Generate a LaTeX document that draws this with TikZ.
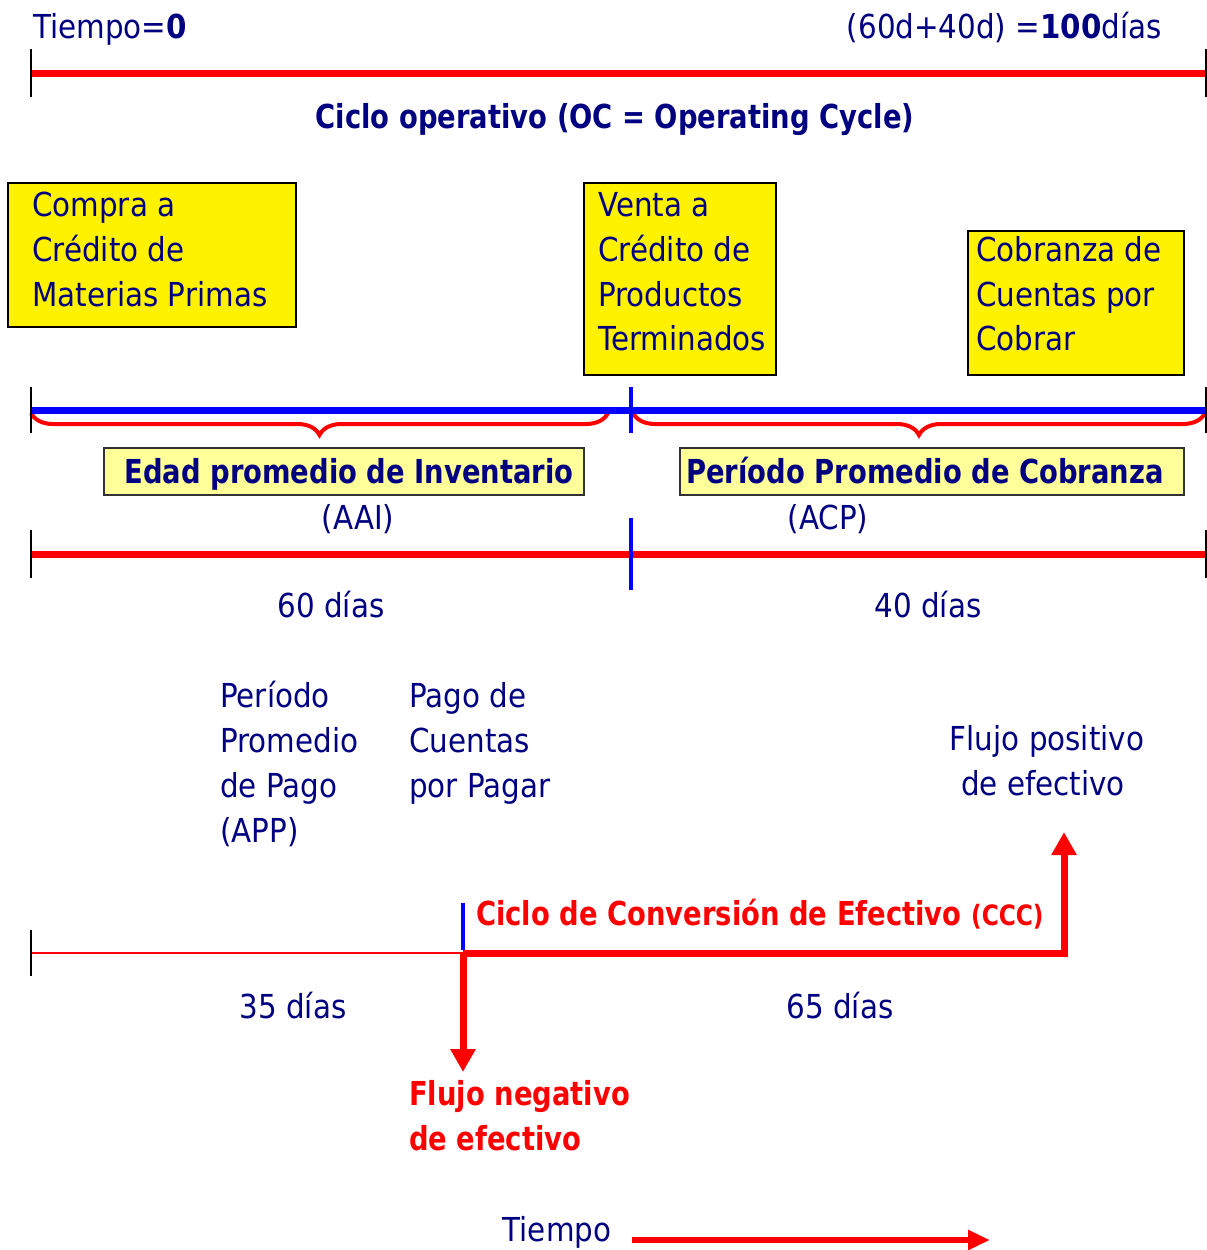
\documentclass[tikz,border=0pt]{standalone}
\usepackage{fontspec}
\setmainfont{DejaVu Sans}[FakeStretch=0.89]
\newfontfamily\bfam{DejaVu Sans}[FakeStretch=0.83]
\usetikzlibrary{decorations.pathreplacing,arrows.meta,calc}
\definecolor{navy}{RGB}{0,0,128}
\definecolor{lyel}{RGB}{255,255,153}
\begin{document}
\begin{tikzpicture}[x=1pt,y=-1pt,
  txt/.style={text=navy,font=\fontsize{33}{45}\selectfont,inner sep=0pt},
  btxt/.style={font=\bfam\bfseries\fontsize{33}{45}\selectfont,inner sep=0pt},
  ybox/.style={draw=black,line width=2pt,fill=yellow,inner sep=0pt,anchor=north west},
  lbox/.style={draw=black!80,line width=2pt,fill=lyel,inner sep=0pt,anchor=north west},
  redline/.style={red,line width=7pt},
  bluline/.style={blue,line width=7pt},
  ktick/.style={black,line width=2pt},
  btick/.style={blue,line width=4.5pt},
  rbrace/.style={red,line width=4pt,decorate,decoration={brace,mirror,amplitude=22pt}},
  rarrow/.style={red,line width=7pt,-{Triangle[length=23pt,width=24pt]}}
]
\useasboundingbox (0,0) rectangle (1207,1250);

% ---------- top line ----------
\coordinate (t0) at (31,73);
\coordinate (t1) at (1207,73);
\draw[redline] (t0) -- (t1);
\draw[ktick] ($(t0)+(0,-24)$) -- ($(t0)+(0,24)$);
\draw[ktick] ($(t1)+(-1,-24)$) -- ($(t1)+(-1,24)$);
\node[txt,anchor=base west] (tcero) at (33,38) {Tiempo=\textbf{0}};
\node[txt,anchor=base east] (tcien) at (1162,38) {(60d+40d) =\textbf{100}días};
\node[btxt,text=navy,anchor=base] (oc) at (615,128) {Ciclo operativo (OC = Operating Cycle)};

% ---------- yellow boxes ----------
\node[ybox,minimum width=288pt,minimum height=144pt] (b1) at (7,182) {};
\node[txt,anchor=base west] (b1a) at (32,216) {Compra a};
\node[txt,anchor=base west] (b1b) at (32,261) {Crédito de};
\node[txt,anchor=base west] (b1c) at (32,306) {Materias Primas};

\node[ybox,minimum width=192pt,minimum height=192pt] (b2) at (583,182) {};
\node[txt,anchor=base west] (b2a) at (598,216) {Venta a};
\node[txt,anchor=base west] (b2b) at (598,261) {Crédito de};
\node[txt,anchor=base west] (b2c) at (598,306) {Productos};
\node[txt,anchor=base west] (b2d) at (598,350) {Terminados};

\node[ybox,minimum width=216pt,minimum height=144pt] (b3) at (967,230) {};
\node[txt,anchor=base west] (b3a) at (976,261) {Cobranza de};
\node[txt,anchor=base west] (b3b) at (976,306) {Cuentas por};
\node[txt,anchor=base west] (b3c) at (976,350) {Cobrar};

% ---------- blue line with braces ----------
\coordinate (m0) at (31,410);
\coordinate (mm) at (631,410);
\coordinate (m1) at (1207,410);
\draw[rbrace] (31,413) -- (608,413);
\draw[rbrace] (633,413) -- (1205,413);
\draw[bluline] (m0) -- (m1);
\draw[ktick] ($(m0)+(0,-23)$) -- ($(m0)+(0,23)$);
\draw[ktick] ($(m1)+(-1,-23)$) -- ($(m1)+(-1,23)$);
\draw[btick] ($(mm)+(0,-23)$) -- ($(mm)+(0,23)$);

\node[lbox,minimum width=480pt,minimum height=47pt] (lb1) at (103,447) {};
\node[btxt,text=navy,anchor=base] (aai) at (349,483) {Edad promedio de Inventario};
\node[lbox,minimum width=504pt,minimum height=47pt] (lb2) at (679,447) {};
\node[btxt,text=navy,anchor=base] (acp) at (925,483) {Período Promedio de Cobranza};
\node[txt,anchor=base] (aaiab) at (358,529) {(AAI)};
\node[txt,anchor=base] (acpab) at (828,529) {(ACP)};

% ---------- second red line ----------
\coordinate (r0) at (31,554);
\coordinate (rm) at (631,554);
\coordinate (r1) at (1207,554);
\draw[redline] (r0) -- (r1);
\draw[ktick] ($(r0)+(0,-24)$) -- ($(r0)+(0,24)$);
\draw[ktick] ($(r1)+(-1,-24)$) -- ($(r1)+(-1,24)$);
\draw[btick] ($(rm)+(0,-36)$) -- ($(rm)+(0,36)$);
\node[txt,anchor=base] (d60) at (331,617) {60 días};
\node[txt,anchor=base] (d40) at (928,617) {40 días};

% ---------- middle texts ----------
\node[txt,anchor=base west] (app1) at (220,707) {Período};
\node[txt,anchor=base west] (app2) at (220,752) {Promedio};
\node[txt,anchor=base west] (app3) at (220,797) {de Pago};
\node[txt,anchor=base west] (app4) at (220,842) {(APP)};
\node[txt,anchor=base west] (pg1) at (409,707) {Pago de};
\node[txt,anchor=base west] (pg2) at (409,752) {Cuentas};
\node[txt,anchor=base west] (pg3) at (409,797) {por Pagar};
\node[txt,anchor=base] (fp1) at (1047,750) {Flujo positivo};
\node[txt,anchor=base] (fp2) at (1043,795) {de efectivo};

% ---------- bottom line ----------
\coordinate (c0) at (31,953);
\coordinate (cp) at (463,953);
\coordinate (ce) at (1064,953);
\coordinate (cup) at (1064,832);
\coordinate (cdn) at (463,1072);
\draw[red,line width=1.5pt] (c0) -- (cp);
\draw[ktick] ($(c0)+(0,-23)$) -- ($(c0)+(0,23)$);
\draw[btick] ($(cp)+(0,-50)$) -- ($(cp)+(0,-3)$);
\draw[rarrow] (cp) -- (ce) -- (cup);
\draw[rarrow] (cp) -- (cdn);
\node[btxt,text=red,anchor=base west] (ccc) at (476,925) {Ciclo de Conversión de Efectivo {\fontsize{28}{30}\selectfont (CCC)}};
\node[txt,anchor=base] (d35) at (293,1018) {35 días};
\node[txt,anchor=base] (d65) at (840,1018) {65 días};
\node[btxt,text=red,anchor=base west] (fn1) at (409,1105) {Flujo negativo};
\node[btxt,text=red,anchor=base west] (fn2) at (409,1150) {de efectivo};

% ---------- time arrow ----------
\node[txt,anchor=base] (tiempo) at (557,1241) {Tiempo};
\coordinate (ta0) at (632,1240);
\coordinate (ta1) at (990,1240);
\draw[red,line width=6pt,-{Triangle[length=22pt,width=19pt]}] (ta0) -- (ta1);
\end{tikzpicture}
\end{document}
